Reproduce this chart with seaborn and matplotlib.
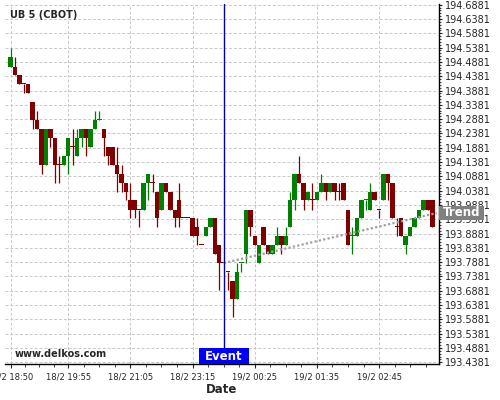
import numpy as np
import matplotlib
matplotlib.use("Agg")
import matplotlib.pyplot as plt
import matplotlib.transforms as mtransforms
from matplotlib.patches import Rectangle
from matplotlib.ticker import FixedLocator, FormatStrFormatter
import seaborn as sns

# 5-minute candles, UB 5 (CBOT)
opens = [194.472, 194.472, 194.441, 194.410, 194.410, 194.347, 194.285, 194.254, 194.129, 194.254,
         194.222, 194.129, 194.129, 194.160, 194.191, 194.160, 194.222, 194.254, 194.191, 194.254,
         194.285, 194.254, 194.191, 194.191, 194.129, 194.097, 194.066, 194.004, 194.004, 193.972,
         193.972, 194.066, 194.066, 194.035, 193.972, 194.066, 194.035, 193.972, 194.004, 193.941,
         193.941, 193.941, 193.910, 193.847, 193.879, 193.910, 193.941, 193.847, 193.785, 193.754,
         193.722, 193.660, 193.785, 193.816, 193.972, 193.879, 193.785, 193.910, 193.847, 193.816,
         193.847, 193.879, 193.847, 193.910, 194.004, 194.097, 194.066, 194.004, 194.004, 194.004,
         194.035, 194.066, 194.035, 194.066, 194.035, 194.066, 193.972, 193.879, 193.879, 193.941,
         194.004, 193.972, 194.035, 193.972, 194.004, 194.097, 194.066, 193.910, 193.941, 193.847,
         193.879, 193.910, 193.941, 193.972, 194.004, 194.004]
highs = [194.535, 194.504, 194.441, 194.410, 194.410, 194.347, 194.316, 194.254, 194.254, 194.254,
         194.222, 194.160, 194.160, 194.222, 194.254, 194.254, 194.254, 194.254, 194.254, 194.316,
         194.316, 194.254, 194.191, 194.191, 194.191, 194.129, 194.066, 194.066, 194.004, 193.972,
         194.066, 194.097, 194.097, 194.035, 194.066, 194.066, 194.035, 193.972, 194.066, 193.941,
         193.941, 193.941, 193.941, 193.847, 193.910, 193.941, 193.941, 193.847, 193.785, 193.754,
         193.722, 193.785, 193.785, 193.972, 193.972, 193.879, 193.847, 193.910, 193.847, 193.847,
         193.910, 193.879, 193.910, 194.035, 194.097, 194.160, 194.066, 194.035, 194.066, 194.035,
         194.097, 194.066, 194.066, 194.066, 194.066, 194.066, 193.972, 193.910, 193.941, 194.004,
         194.004, 194.066, 194.035, 193.972, 194.097, 194.097, 194.066, 193.941, 193.941, 193.879,
         193.910, 193.941, 193.972, 194.004, 194.004, 194.004]
lows = [194.472, 194.441, 194.410, 194.379, 194.379, 194.254, 194.254, 194.097, 194.129, 194.191,
        194.066, 194.066, 194.129, 194.097, 194.129, 194.160, 194.191, 194.160, 194.191, 194.254,
        194.285, 194.160, 194.129, 194.129, 194.035, 194.035, 194.004, 193.941, 193.941, 193.910,
        193.972, 194.004, 194.035, 193.910, 193.972, 194.035, 193.972, 193.910, 193.910, 193.941,
        193.941, 193.879, 193.847, 193.847, 193.879, 193.910, 193.816, 193.691, 193.785, 193.691,
        193.597, 193.660, 193.754, 193.785, 193.879, 193.847, 193.785, 193.847, 193.816, 193.816,
        193.847, 193.816, 193.847, 193.910, 193.972, 194.066, 193.972, 194.004, 193.972, 194.004,
        194.035, 194.004, 194.035, 194.004, 194.004, 194.004, 193.847, 193.816, 193.879, 193.941,
        193.972, 193.972, 194.004, 193.941, 194.004, 194.004, 193.941, 193.879, 193.879, 193.816,
        193.879, 193.910, 193.941, 193.972, 193.972, 193.910]
closes = [194.504, 194.441, 194.410, 194.410, 194.379, 194.285, 194.254, 194.129, 194.254, 194.222,
          194.129, 194.129, 194.160, 194.222, 194.191, 194.222, 194.254, 194.222, 194.254, 194.285,
          194.285, 194.222, 194.160, 194.129, 194.097, 194.066, 194.035, 193.972, 193.972, 193.972,
          194.066, 194.097, 194.066, 193.941, 194.066, 194.035, 193.972, 193.941, 193.941, 193.941,
          193.941, 193.879, 193.879, 193.847, 193.910, 193.941, 193.816, 193.785, 193.785, 193.754,
          193.660, 193.754, 193.785, 193.972, 193.910, 193.847, 193.847, 193.847, 193.816, 193.847,
          193.879, 193.847, 193.879, 194.004, 194.097, 194.066, 194.004, 194.035, 194.004, 194.035,
          194.066, 194.035, 194.066, 194.035, 194.035, 194.004, 193.847, 193.879, 193.941, 194.004,
          194.004, 194.035, 194.004, 193.972, 194.097, 194.066, 193.941, 193.910, 193.879, 193.879,
          193.910, 193.941, 193.972, 194.004, 193.972, 193.910]
doji_up = [20, 52, 77, 80]

tick_pos = [0, 13, 27, 41, 55, 69, 83]
tick_labels = ["18/2 18:50", "18/2 19:55", "18/2 21:05", "18/2 23:15",
               "19/2 00:25", "19/2 01:35", "19/2 02:45"]

event_x = 48
trend_x = [48, 96]
trend_y = [193.785, 193.960]

sns.set_style("white")
plt.rcParams['font.family'] = ['DejaVu Sans']

fig = plt.figure(figsize=(5, 4), dpi=100)
ax = fig.add_axes([0.01, 0.09, 0.868, 0.90])
ax.set_axisbelow(True)

o = np.array(opens)
c = np.array(closes)
idx = np.arange(len(o))
up = (c > o) | ((c == o) & np.isin(idx, doji_up))
colors = np.where(up, '#008000', '#800000')

# wicks then bodies
ax.vlines(idx, lows, highs, colors=colors, linewidth=0.9, zorder=2)
h = c - o
h = np.where(np.abs(h) < 1e-9, 0.0035, h)
ax.bar(idx, h, bottom=o, width=1.0, color=colors, linewidth=0, zorder=3)

# trend line
sns.lineplot(x=trend_x, y=trend_y, ax=ax, color='#a0a0a0', linewidth=1.6,
             linestyle=(0, (1, 1)), zorder=4)

# event marker
ax.axvline(event_x, color='#0000aa', linewidth=1.0, zorder=5)
bt = mtransforms.blended_transform_factory(ax.transData, ax.transAxes)
ax.add_patch(Rectangle((event_x - 5.63, 0), 11.26, 0.0444, transform=bt,
                       facecolor='#0000ff', edgecolor='none', zorder=6, clip_on=False))
ax.text(event_x, 0.0222, "Event", transform=bt, ha='center', va='center',
        color='white', fontsize=8.5, fontweight='bold', zorder=7)

# trend label sits over the price labels, so draw it at figure level
tt = mtransforms.blended_transform_factory(ax.transAxes, ax.transData)
fig.add_artist(Rectangle((1.0, trend_y[-1] - 0.0262), 0.1037, 0.0524, transform=tt,
                         facecolor='#808080', edgecolor='none', zorder=10))
fig.text(1.0518, trend_y[-1], "Trend", transform=tt, ha='center', va='center',
         color='white', fontsize=8.5, fontweight='bold', zorder=11)

ax.text(0.0115, 0.9694, "UB 5 (CBOT)", transform=ax.transAxes, fontsize=7,
        fontweight='bold', va='center', ha='left')
ax.text(0.023, 0.0278, "www.delkos.com", transform=ax.transAxes, fontsize=7,
        fontweight='bold', va='center', ha='left')

ax.set_xlim(-1.24, 96.5)
ax.set_ylim(193.4322, 194.6905)

# axes
ax.xaxis.set_major_locator(FixedLocator(tick_pos))
ax.set_xticklabels(tick_labels)
minor_x = []
for a, b in zip(tick_pos[:-1], tick_pos[1:]):
    minor_x += list(np.linspace(a, b, 5)[1:-1])
minor_x += [86.5, 90.0, 93.5]
ax.xaxis.set_minor_locator(FixedLocator(minor_x))

ax.yaxis.tick_right()
ax.yaxis.set_major_locator(FixedLocator(np.arange(193.4381, 194.70, 0.05)))
ax.yaxis.set_minor_locator(FixedLocator(np.arange(193.4381, 194.70, 0.01)))
ax.yaxis.set_major_formatter(FormatStrFormatter('%.4f'))

ax.tick_params(axis='x', which='major', direction='out', length=3, width=0.8,
               pad=3, labelsize=6, bottom=True)
ax.tick_params(axis='x', which='minor', direction='out', length=1.8, width=0.6, bottom=True)
ax.tick_params(axis='y', which='major', direction='out', length=2.5, width=0.8,
               pad=2, labelsize=7, right=True, left=False)
ax.tick_params(axis='y', which='minor', direction='out', length=1.5, width=0.6,
               right=True, left=False)

ax.grid(True, which='major', color='#c8c8c8', linestyle=(0, (3, 2)), linewidth=0.7)

for s in ['left', 'top']:
    ax.spines[s].set_visible(False)
for s in ['right', 'bottom']:
    ax.spines[s].set_color('black')
    ax.spines[s].set_linewidth(1.0)

ax.set_xlabel("Date", fontsize=8.5, fontweight='bold', labelpad=1)
ax.set_ylabel("")

fig.savefig("out.png", dpi=100)
